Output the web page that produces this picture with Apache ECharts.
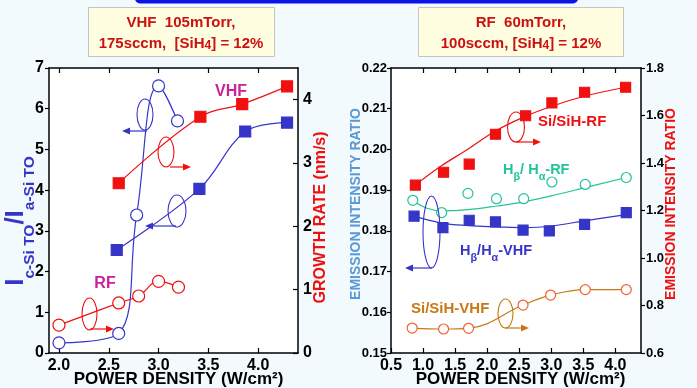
<!DOCTYPE html>
<html><head><meta charset="utf-8">
<script src="https://cdn.jsdelivr.net/npm/echarts@6/dist/echarts.min.js"></script>
<style>html,body{margin:0;padding:0;background:#f3fafd}#c{width:697px;height:388px}</style>
</head><body><div id="c"></div>
<script>
// ---------- Left panel: Raman ratio (left axis) & growth rate (right axis) ----------
const powerTicksLeft = [2.0, 2.5, 3.0, 3.5, 4.0];
const rateTicks = [0, 1, 2, 3, 4];
const rfRatioPower = [2.0, 2.6, 2.78, 3.0, 3.19];
const rfRatio = [0.25, 0.48, 3.39, 6.56, 5.70];
const rfRatePower = [2.0, 2.6, 2.8, 3.0, 3.2];
const rfRate = [0.44, 0.79, 0.90, 1.13, 1.04];
const vhfRatioPower = [2.58, 3.41, 3.87, 4.29];
const vhfRatio = [2.53, 4.03, 5.44, 5.66];
const vhfRatePower = [2.6, 3.42, 3.84, 4.29];
const vhfRate = [2.68, 3.73, 3.93, 4.21];

// ---------- Right panel: emission intensity ratios ----------
const powerTicksRight = [0.5, 1.0, 1.5, 2.0, 2.5, 3.0, 3.5, 4.0];
const siRfPower = [0.88, 1.32, 1.72, 2.13, 2.6, 3.01, 3.52, 4.16];
const siRf = [1.307, 1.361, 1.395, 1.521, 1.599, 1.653, 1.698, 1.719];
const siRfFitPower = [0.88, 1.27, 1.68, 2.13, 2.6, 3.0, 3.5, 4.16];
const siRfFit = [1.307, 1.385, 1.455, 1.535, 1.597, 1.638, 1.680, 1.719];
const hRfPower = [0.84, 1.29, 1.70, 2.145, 2.57, 3.01, 3.53, 4.17];
const hRf = [0.1875, 0.1845, 0.1892, 0.1879, 0.1879, 0.1920, 0.1914, 0.1931];
const hRfFitPower = [0.84, 1.05, 1.3, 1.7, 2.15, 2.6, 3.0, 3.5, 4.17];
const hRfFit = [0.1875, 0.1856, 0.1849, 0.1852, 0.1861, 0.1872, 0.1886, 0.1905, 0.1931];
const hVhfPower = [0.86, 1.31, 1.72, 2.13, 2.56, 2.97, 3.52, 4.17];
const hVhf = [0.1836, 0.1808, 0.1826, 0.1822, 0.1802, 0.1800, 0.1816, 0.1845];
const hVhfFitPower = [0.86, 1.3, 1.7, 2.15, 2.6, 3.0, 3.5, 4.17];
const hVhfFit = [0.1836, 0.1819, 0.1813, 0.1810, 0.1808, 0.1812, 0.1824, 0.1840];
const siVhfPower = [0.83, 1.32, 1.71, 2.56, 2.99, 3.53, 4.17];
const siVhf = [0.705, 0.701, 0.704, 0.802, 0.844, 0.867, 0.867];

const zip = (xs, ys) => xs.map((x, i) => [x, ys[i]]);
const FF = '"Liberation Sans", Arial, sans-serif';
const BLUE = '#3535c8', RED = '#f01010', GREEN = '#22c49a', ORANGE = '#c87814', ORCIRC = '#f06030', MAG = '#cc2299';

const chart = echarts.init(document.getElementById('c'));

const axLine = { show: true, onZero: false, lineStyle: { color: '#000', width: 1.5 } };
const lblStyle = (size) => ({ color: '#000', fontSize: size, fontWeight: 'bold', fontFamily: FF });
function xAx(grid, min, max, ticks, pos, labels, namePad) {
  return {
    type: 'value', gridIndex: grid, min, max, position: pos,
    axisLine: axLine, splitLine: { show: false },
    axisTick: { show: true, inside: true, length: 5, customValues: ticks, lineStyle: { color: '#000', width: 1.2 } },
    axisLabel: labels ? Object.assign({ show: true, customValues: ticks, margin: 5, formatter: v => v.toFixed(1) }, lblStyle(16)) : { show: false },
    name: labels ? 'POWER DENSITY (W/cm²)' : '', nameLocation: 'middle', nameGap: 18,
    nameMoveOverlap: false,
    nameTextStyle: { color: '#000', fontSize: 17, fontWeight: 'bold', fontFamily: FF, padding: [0, 0, 0, namePad || 0] }
  };
}

function ellipse(cx, cy, rx, ry, color) {
  return { type: 'ellipse', shape: { cx, cy, rx, ry }, style: { fill: 'none', stroke: color, lineWidth: 1.1 }, z: 10 };
}
function arrow(x1, y1, x2, y2, color) {
  const dx = x2 - x1, dy = y2 - y1, L = Math.hypot(dx, dy), ux = dx / L, uy = dy / L;
  const hl = 8, hw = 3.5, bx = x2 - ux * hl, by = y2 - uy * hl;
  return [
    { type: 'line', shape: { x1, y1, x2: bx, y2: by }, style: { stroke: color, lineWidth: 1.2 }, z: 10 },
    { type: 'polygon', shape: { points: [[x2, y2], [bx - uy * hw, by + ux * hw], [bx + uy * hw, by - ux * hw]] }, style: { fill: color }, z: 10 }
  ];
}
function richTok(size, color, va, lh) {
  return { fontSize: size, fontWeight: 'bold', fontFamily: FF, fill: color, color: color, lineHeight: lh, verticalAlign: va };
}
function subLabel(text, x, y, color, size) {
  return {
    type: 'text', x, y, z: 10,
    style: { text, align: 'left', verticalAlign: 'top',
      rich: { n: richTok(size, color, 'top', size), s: richTok(size * 0.75, color, 'bottom', size * 1.35) } }
  };
}
function plainLabel(text, x, y, color, size, align) {
  return { type: 'text', x, y, z: 10, style: { text, fill: color, font: 'bold ' + size + 'px ' + FF, align: align || 'left', verticalAlign: 'middle' } };
}
const titleRich = { n: richTok(15, '#cc1111', 'top', 15), s: richTok(12, '#cc1111', 'bottom', 16) };

const graphics = [
  { type: 'rect', shape: { x: 135, y: -8, width: 443, height: 11.5, r: 5 }, style: { fill: '#0a14e6' } },
  // title boxes
  { type: 'rect', shape: { x: 88.5, y: 7.5, width: 186, height: 49 }, style: { fill: '#fffee0', stroke: '#c4c4c4', lineWidth: 1 } },
  plainLabel('VHF  105mTorr,', 181, 23, '#cc1111', 15, 'center'),
  { type: 'text', x: 181, y: 44, style: { text: '{n|175sccm,  [SiH}{s|4}{n|] = 12%}', align: 'center', verticalAlign: 'middle', rich: titleRich } },
  { type: 'rect', shape: { x: 418.5, y: 7.5, width: 205, height: 49 }, style: { fill: '#fffee0', stroke: '#c4c4c4', lineWidth: 1 } },
  plainLabel('RF  60mTorr,', 521, 23, '#cc1111', 15, 'center'),
  { type: 'text', x: 521, y: 44, style: { text: '{n|100sccm, [SiH}{s|4}{n|] = 12%}', align: 'center', verticalAlign: 'middle', rich: titleRich } },
  // left y-axis title with subscripts
  { type: 'text', x: 20, y: 221, rotation: Math.PI / 2, z: 10,
    style: { text: '{b|I}{s|c-Si TO}{b|/I}{s|a-Si TO}', align: 'center', verticalAlign: 'middle',
      rich: { b: richTok(26, BLUE, 'top', 26), s: richTok(15.5, BLUE, 'bottom', 34.5) } } },
  // annotations left panel
  plainLabel('RF', 105, 284, MAG, 16, 'center'),
  plainLabel('VHF', 231, 92, MAG, 16, 'center'),
  ellipse(145, 114.5, 8, 15.5, BLUE), ...arrow(147, 131, 122, 131, BLUE),
  ellipse(166, 152, 8, 15, RED), ...arrow(170, 167, 191, 167, RED),
  ellipse(177, 211, 9, 16, BLUE), ...arrow(176, 226, 145, 226, BLUE),
  ellipse(89.5, 314, 7.5, 16, RED), ...arrow(90, 329, 114, 329, RED),
  // annotations right panel
  plainLabel('Si/SiH-RF', 538, 122, RED, 15),
  subLabel('{n|H}{s|β}{n|/ H}{s|α}{n|-RF}', 503, 162.5, GREEN, 14.5),
  subLabel('{n|H}{s|β}{n|/H}{s|α}{n|-VHF}', 460, 243.5, BLUE, 14.5),
  plainLabel('Si/SiH-VHF', 411, 309, ORANGE, 15),
  ellipse(516, 127, 8.5, 15, RED), ...arrow(516, 142, 541, 142, RED),
  ellipse(431.5, 232, 8.5, 36, BLUE), ...arrow(432, 268, 405, 268, BLUE),
  ellipse(505.5, 313.5, 7.5, 14.5, ORANGE), ...arrow(505, 328, 529, 328, ORANGE)
];

const lineS = (xi, yi, data, color, sym, size, fill, smooth) => ({
  type: 'line', xAxisIndex: xi, yAxisIndex: yi, data, smooth,
  symbol: sym, symbolSize: size, showSymbol: sym !== 'none',
  itemStyle: { color: fill, borderColor: color, borderWidth: 1.2 },
  lineStyle: { color, width: 1.2 }, emphasis: { disabled: true }, z: 3
});
const scatterS = (xi, yi, data, color, sym, size, fill) => ({
  type: 'scatter', xAxisIndex: xi, yAxisIndex: yi, data, symbol: sym, symbolSize: size,
  itemStyle: { color: fill, borderColor: color, borderWidth: 1.2, opacity: 1 }, emphasis: { disabled: true }, z: 4
});

chart.setOption({
  animation: false,
  backgroundColor: '#f3fafd',
  textStyle: { fontFamily: FF },
  grid: [
    { left: 49, top: 68, width: 249, height: 285, show: true, backgroundColor: '#fff', borderWidth: 0, containLabel: false, outerBoundsMode: 'none' },
    { left: 391, top: 68, width: 250, height: 285, show: true, backgroundColor: '#fff', borderWidth: 0, containLabel: false, outerBoundsMode: 'none' }
  ],
  xAxis: [
    xAx(0, 1.9, 4.4, powerTicksLeft, 'bottom', true, 10),
    xAx(0, 1.9, 4.4, powerTicksLeft, 'top', false),
    xAx(1, 0.5, 4.4, powerTicksRight, 'bottom', true, 9),
    xAx(1, 0.5, 4.4, powerTicksRight.slice(1), 'top', false)
  ],
  yAxis: [
    { type: 'value', gridIndex: 0, min: 0, max: 7, interval: 1, position: 'left',
      axisLine: axLine, splitLine: { show: false },
      axisTick: { show: true, inside: false, length: 4, lineStyle: { color: '#000', width: 1.2 } },
      axisLabel: Object.assign({ margin: 5 }, lblStyle(16)) },
    { type: 'value', gridIndex: 0, min: 0, max: 4.5, position: 'right',
      axisLine: axLine, splitLine: { show: false },
      axisTick: { show: true, inside: true, length: 5, customValues: rateTicks, lineStyle: { color: '#000', width: 1.2 } },
      axisLabel: Object.assign({ margin: 5, customValues: rateTicks }, lblStyle(16)),
      name: 'GROWTH RATE (nm/s)', nameLocation: 'middle', nameGap: 15, nameMoveOverlap: false,
      nameTextStyle: { color: RED, fontSize: 16, fontWeight: 'bold', fontFamily: FF, padding: [0, 14, 0, 0] } },
    { type: 'value', gridIndex: 1, min: 0.15, max: 0.22, interval: 0.01, position: 'left',
      axisLine: axLine, splitLine: { show: false },
      axisTick: { show: true, inside: false, length: 4, lineStyle: { color: '#000', width: 1.2 } },
      axisLabel: Object.assign({ margin: 4, formatter: v => v.toFixed(2) }, lblStyle(13)),
      name: 'EMISSION INTENSITY RATIO', nameLocation: 'middle', nameGap: 28, nameMoveOverlap: false,
      nameTextStyle: { color: '#5b98d6', fontSize: 14, fontWeight: 'bold', fontFamily: FF, padding: [0, 0, 0, 13] } },
    { type: 'value', gridIndex: 1, min: 0.6, max: 1.8, interval: 0.2, position: 'right',
      axisLine: axLine, splitLine: { show: false },
      axisTick: { show: true, inside: false, length: 4, lineStyle: { color: '#000', width: 1.2 } },
      axisLabel: Object.assign({ margin: 5, formatter: v => v.toFixed(1) }, lblStyle(13)),
      name: 'EMISSION INTENSITY RATIO', nameLocation: 'middle', nameGap: 23, nameMoveOverlap: false,
      nameTextStyle: { color: RED, fontSize: 14, fontWeight: 'bold', fontFamily: FF, padding: [0, 0, 0, 13] } }
  ],
  series: [
    lineS(0, 0, zip(rfRatioPower, rfRatio), BLUE, 'circle', 12, '#fff', 0.45),
    lineS(0, 1, zip(rfRatePower, rfRate), RED, 'circle', 12, '#fff', 0.4),
    lineS(0, 0, zip(vhfRatioPower, vhfRatio), BLUE, 'rect', 11, BLUE, 0.35),
    lineS(0, 1, zip(vhfRatePower, vhfRate), RED, 'rect', 11, RED, 0.4),
    lineS(2, 3, zip(siRfFitPower, siRfFit), RED, 'none', 0, RED, 0.4),
    scatterS(2, 3, zip(siRfPower, siRf), RED, 'rect', 10, RED),
    lineS(2, 2, zip(hRfFitPower, hRfFit), GREEN, 'none', 0, GREEN, 0.4),
    scatterS(2, 2, zip(hRfPower, hRf), GREEN, 'circle', 10, '#fff'),
    lineS(2, 2, zip(hVhfFitPower, hVhfFit), BLUE, 'none', 0, BLUE, 0.4),
    scatterS(2, 2, zip(hVhfPower, hVhf), BLUE, 'rect', 10, BLUE),
    Object.assign(lineS(2, 3, zip(siVhfPower, siVhf), ORANGE, 'circle', 10, '#fff', 0.4),
      { itemStyle: { color: '#fff', borderColor: ORCIRC, borderWidth: 1.2 } })
  ],
  graphic: graphics
});
</script></body></html>
